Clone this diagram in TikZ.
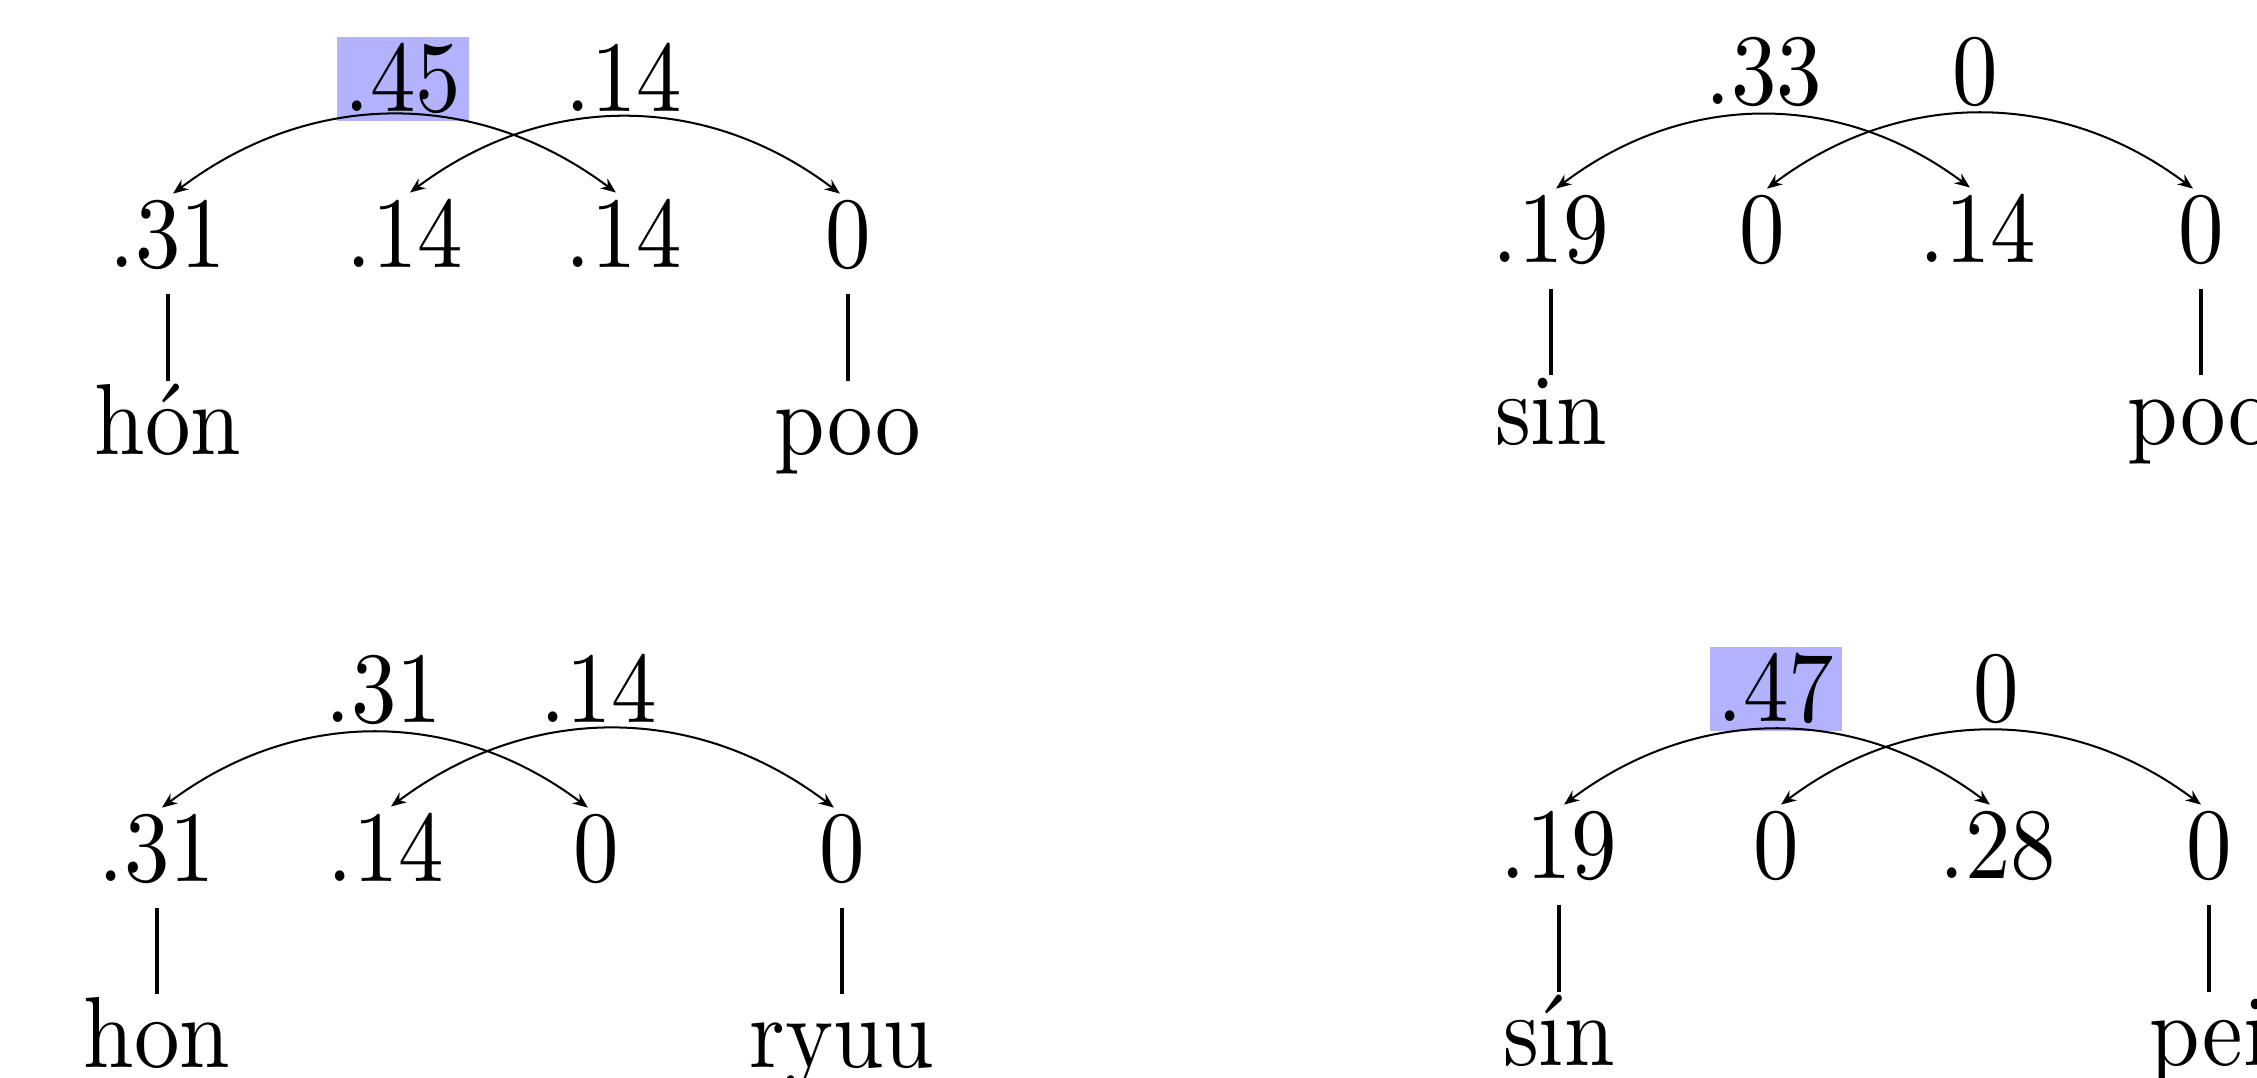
\documentclass[tikz,border=0pt]{standalone}
\usetikzlibrary{arrows.meta}
\begin{document}
\begin{tikzpicture}[x=0.099pt, y=-0.099pt,
    num/.style={anchor=base, inner sep=0.5pt, xscale=0.9},
    lab/.style={anchor=base, inner xsep=0.9pt, inner ysep=0.7pt, xscale=0.9},
    best/.style={fill=blue!30},
    word/.style={anchor=base, inner sep=0pt, text height=6.9pt, xscale=0.9},
    link/.style={{Stealth[length=1.5pt,width=1.2pt]}-{Stealth[length=1.5pt,width=1.2pt]}, line width=0.2pt, bend left=37},
    stem/.style={line width=0.4pt, shorten <=1.7pt, shorten >=0.2pt}]
  \useasboundingbox (0,0) rectangle (2257,1078);

  % top left: hón -- poo
  \node[num] (a1) at (168,268) {.31};
  \node[num] (a2) at (405,268) {.14};
  \node[num] (a3) at (624,268) {.14};
  \node[num] (a4) at (848,268) {0};
  \node[lab, best] (ta) at (403,112) {.45};
  \node[lab] (tb) at (624,112) {.14};
  \node[word] (wa1) at (168,455) {hón};
  \node[word] (wa4) at (848,455) {poo};
  \draw[link] ([xshift=0.5pt]a1.north) to ([xshift=-0.8pt]a3.north);
  \draw[link] ([xshift=0.5pt]a2.north) to ([xshift=-0.8pt]a4.north);
  \draw[stem] (a1.south) -- (wa1.north);
  \draw[stem] (a4.south) -- (wa4.north);

  % top right: sin -- poo
  \node[num] (b1) at (1551,263) {.19};
  \node[num] (b2) at (1762,263) {0};
  \node[num] (b3) at (1978,263) {.14};
  \node[num] (b4) at (2201,263) {0};
  \node[lab] (ua) at (1764,105) {.33};
  \node[lab] (ub) at (1975,105) {0};
  \node[word, text height=6.5pt] (wb1) at (1551,445) {sin};
  \node[word, text height=6.5pt] (wb4) at (2201,445) {poo};
  \draw[link] ([xshift=0.5pt]b1.north) to ([xshift=-0.8pt]b3.north);
  \draw[link] ([xshift=0.5pt]b2.north) to ([xshift=-0.8pt]b4.north);
  \draw[stem] (b1.south) -- (wb1.north);
  \draw[stem] (b4.south) -- (wb4.north);

  % bottom left: hon -- ryuu
  \node[num] (c1) at (157,882) {.31};
  \node[num] (c2) at (386,882) {.14};
  \node[num] (c3) at (596,882) {0};
  \node[num] (c4) at (842,882) {0};
  \node[lab] (va) at (384,723) {.31};
  \node[lab] (vb) at (599,723) {.14};
  \node[word] (wc1) at (157,1068) {hon};
  \node[word] (wc4) at (842,1068) {ryuu};
  \draw[link] ([xshift=0.5pt]c1.north) to ([xshift=-0.8pt]c3.north);
  \draw[link] ([xshift=0.5pt]c2.north) to ([xshift=-0.8pt]c4.north);
  \draw[stem] (c1.south) -- (wc1.north);
  \draw[stem] (c4.south) -- (wc4.north);

  % bottom right: sín -- pei
  \node[num] (d1) at (1559,879) {.19};
  \node[num] (d2) at (1776,879) {0};
  \node[num] (d3) at (1998,879) {.28};
  \node[num] (d4) at (2209,879) {0};
  \node[lab, best] (xa) at (1776,722) {.47};
  \node[lab] (xb) at (1996,722) {0};
  \node[word] (wd1) at (1559,1066) {sín};
  \node[word] (wd4) at (2209,1066) {pei};
  \draw[link] ([xshift=0.5pt]d1.north) to ([xshift=-0.8pt]d3.north);
  \draw[link] ([xshift=0.5pt]d2.north) to ([xshift=-0.8pt]d4.north);
  \draw[stem] (d1.south) -- (wd1.north);
  \draw[stem] (d4.south) -- (wd4.north);
\end{tikzpicture}
\end{document}
